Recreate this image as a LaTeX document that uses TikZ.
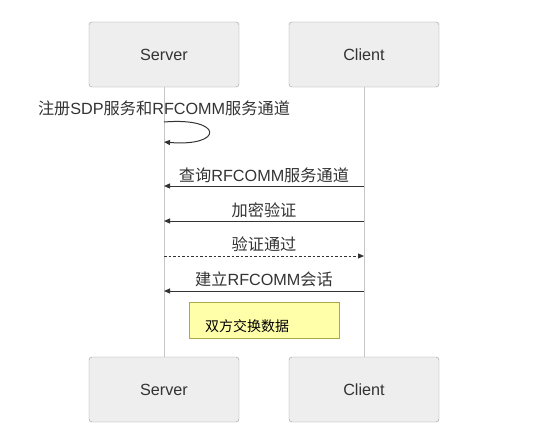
\documentclass[tikz,border=0pt]{standalone}
\usepackage{fontspec}
\setmainfont{Liberation Sans}
\newfontfamily\cjk{Noto Sans CJK SC}
\newcommand{\zh}[1]{{\cjk #1}}
\usetikzlibrary{%
  arrows.meta,%
  positioning% wg. " of "
}
\definecolor{boxfill}{HTML}{EEEEEE}
\definecolor{boxline}{HTML}{999999}
\definecolor{notefill}{HTML}{FFFFAA}
\definecolor{noteline}{HTML}{AAAA44}
\definecolor{inktext}{HTML}{333333}

\begin{document}
\begin{tikzpicture}[
  x=1pt, y=-1pt,
  font=\fontsize{16.2}{19}\selectfont, >={Triangle[length=6pt,width=5pt]},
  actor/.style={rectangle, minimum height=65pt, minimum width=150pt, draw=boxline, fill=boxfill, rounded corners=3pt, text=inktext},
  lifeline/.style={draw=gray!45, line width=0.8pt},
  msg/.style={draw=inktext, line width=1pt, ->},
  reply/.style={msg, dash pattern=on 2.5pt off 2pt},
  msgtext/.style={text=inktext, inner sep=1pt},
  note/.style={rectangle, minimum height=36pt, minimum width=150pt, draw=noteline, fill=notefill, line width=0.8pt},
  notetext/.style={font=\cjk\fontsize{14}{16}\selectfont, text=black, inner sep=0pt}
]
\useasboundingbox (0,0) rectangle (551,444);

% lifeline heads and feet
\node[actor] (srv) at (164,54.5) {Server};
\node[actor] (cli) at (364,54.5) {Client};
\node[actor] (srvb) at (164,389.5) {Server};
\node[actor] (clib) at (364,389.5) {Client};

\draw[lifeline] (srv.south) -- (srvb.north);
\draw[lifeline] (cli.south) -- (clib.north);

% self message
\coordinate (reg0) at (164,122);
\coordinate (reg1) at (164,142);
\node[msgtext] (lreg) at (164,108) {\zh{注册}SDP\zh{服务和}RFCOMM\zh{服务通道}};
\draw[msg] (reg0) .. controls (224,117) and (224,147) .. (reg1);

% messages
\coordinate (qs) at (164,186);
\coordinate (qc) at (364,186);
\node[msgtext] (lq) at (264,175) {\zh{查询}RFCOMM\zh{服务通道}};
\draw[msg] (qc) -- (qs);

\coordinate (es) at (164,221);
\coordinate (ec) at (364,221);
\node[msgtext] (le) at (264,210) {\zh{加密验证}};
\draw[msg] (ec) -- (es);

\coordinate (vs) at (164,256);
\coordinate (vc) at (364,256);
\node[msgtext] (lv) at (264,244) {\zh{验证通过}};
\draw[reply] (vs) -- (vc);

\coordinate (cs) at (164,291);
\coordinate (cc) at (364,291);
\node[msgtext] (lc) at (264,279) {\zh{建立}RFCOMM\zh{会话}};
\draw[msg] (cc) -- (cs);

% note
\node[note] (data) at (264,320) {};
\node[notetext, anchor=west] (ldata) at (205,326) {双方交换数据};
\end{tikzpicture}
\end{document}
